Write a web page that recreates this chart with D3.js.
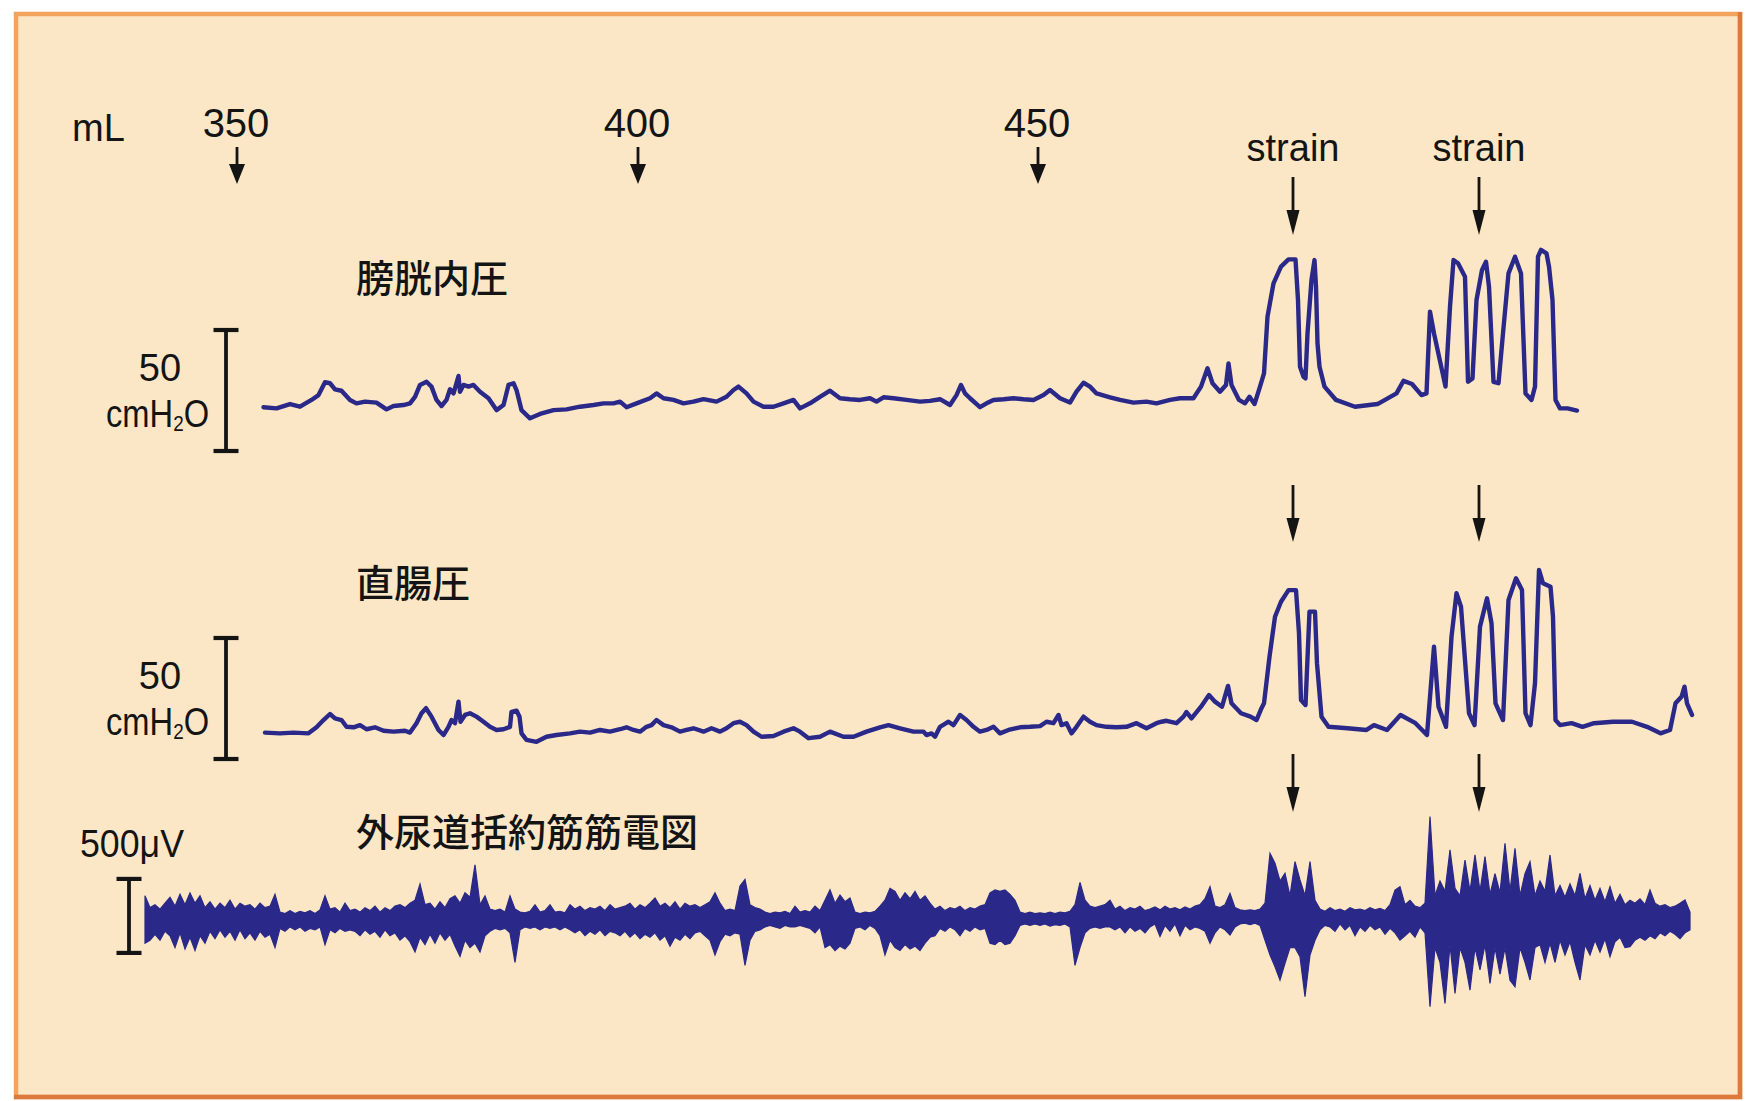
<!DOCTYPE html>
<html><head><meta charset="utf-8">
<script src="https://cdn.jsdelivr.net/npm/d3@7"></script>
<style>
html,body{margin:0;padding:0;background:#fff;}
svg{display:block;}
</style></head>
<body>
<svg id="chart" width="1745" height="1101"></svg>
<script>
// ---------------- data ----------------
const volumeLabels = ["350", "400", "450"];          // infused volume (mL)
const volumeTimes  = [18.4, 98.6, 178.6];             // time (s) of each volume mark
const strainLabels = ["strain", "strain"];
const strainTimes  = [229.6, 266.8];                  // time (s) of strain events
const pressureCal  = [0, 50];                          // cmH2O calibration bar
const emgCal       = [-236, 264];                      // µV calibration bar (500 µV)

// bladder (vesical) pressure: [time s, cmH2O]
const bladderTrace = [
[23.7,18.1],[26.3,17.6],[29.0,19.4],[31.0,18.3],[33.3,21.1],[34.7,23.1],[36.0,28.4],[37.0,28.0],[38.0,25.5],[39.3,24.9],
[41.0,21.1],[42.3,19.7],[44.0,20.4],[46.3,20.0],[48.3,17.2],[49.7,18.6],[51.7,19.0],[53.0,19.7],[54.0,22.4],[55.0,27.3],
[56.3,28.6],[57.3,26.6],[58.3,21.1],[59.3,18.6],[60.3,21.1],[61.0,25.5],[61.7,23.8],[62.3,28.0],[62.7,31.0],[63.0,24.5],
[63.7,27.3],[64.7,26.6],[65.7,27.3],[67.0,24.5],[68.7,21.8],[70.3,16.9],[71.7,19.0],[72.7,27.3],[73.7,28.0],[74.3,25.2],
[75.3,16.9],[77.0,13.5],[79.0,15.3],[81.7,16.9],[84.3,17.2],[87.0,18.3],[89.7,19.0],[91.7,19.7],[93.7,19.7],[95.0,20.4],
[96.3,18.1],[98.3,19.7],[101.0,21.8],[102.3,23.8],[103.7,21.8],[105.7,21.1],[107.7,19.7],[109.7,20.4],[111.7,21.4],[114.3,20.4],
[116.3,22.4],[117.7,25.2],[118.7,26.6],[120.3,23.8],[121.7,20.4],[123.7,18.3],[125.7,18.3],[127.7,19.7],[129.7,21.1],[131.0,17.6],
[133.0,19.7],[135.0,22.4],[137.0,24.9],[139.0,21.8],[141.0,21.4],[143.0,21.1],[145.0,21.8],[146.3,20.4],[147.7,22.2],[149.7,21.8],
[152.3,21.1],[155.0,20.4],[157.0,20.7],[159.0,21.4],[161.0,19.0],[162.3,23.1],[163.2,27.3],[164.0,23.8],[165.0,21.8],[167.0,18.1],
[168.3,19.7],[169.7,21.1],[171.7,21.4],[173.7,21.8],[175.7,21.4],[177.7,21.1],[179.7,23.1],[181.0,25.2],[183.0,21.8],[185.0,20.0],
[186.3,24.5],[187.7,28.2],[189.0,26.6],[190.3,23.8],[193.0,22.2],[195.0,21.1],[197.7,20.0],[200.3,20.4],[202.3,19.7],[205.0,21.1],
[207.0,21.8],[209.7,21.8],[211.2,26.6],[212.5,34.2],[213.5,28.0],[215.0,24.5],[216.2,27.3],[216.7,36.2],[217.3,27.3],[218.8,21.1],
[220.0,19.7],[220.9,22.4],[221.9,19.4],[223.0,26.6],[223.8,32.1],[224.5,55.5],[225.7,69.3],[227.2,76.2],[228.7,79.2],[230.1,79.2],
[230.6,62.4],[231.0,34.8],[231.7,30.7],[232.1,30.0],[232.5,48.6],[233.3,70.7],[233.9,78.9],[234.2,67.9],[234.5,44.5],[234.9,34.8],
[235.9,26.6],[238.2,21.1],[242.0,18.3],[246.5,19.4],[250.3,23.8],[251.7,29.0],[253.4,27.7],[255.3,23.1],[256.3,23.8],[257.0,57.6],
[257.8,48.6],[259.1,36.2],[260.1,26.6],[261.0,59.6],[261.7,78.9],[262.6,77.6],[264.0,72.0],[264.6,28.6],[265.5,30.0],[266.3,62.4],
[267.4,74.8],[268.2,78.2],[268.8,67.9],[269.7,28.6],[270.7,28.0],[271.6,48.6],[272.7,73.4],[274.0,80.3],[275.2,73.4],[276.1,23.8],
[277.3,21.1],[278.0,26.6],[278.6,80.3],[279.2,83.1],[280.3,81.7],[280.8,76.2],[281.5,62.4],[282.1,21.1],[283.0,17.6],[284.5,17.6],
[286.4,16.7]
];

// rectal (abdominal) pressure: [time s, cmH2O]
const rectalTrace = [
[24.0,10.9],[27.0,10.6],[29.7,10.9],[32.7,10.6],[34.3,13.1],[35.7,16.1],[37.0,18.6],[38.0,16.8],[39.3,16.1],[40.3,13.3],
[41.7,13.1],[43.0,14.0],[44.3,12.3],[46.0,13.1],[47.7,11.7],[49.7,11.3],[52.0,11.7],[53.0,10.9],[54.3,14.8],[55.3,18.9],
[56.2,21.0],[57.3,17.5],[58.7,12.0],[59.7,9.9],[60.7,13.3],[61.3,16.1],[62.0,14.8],[62.7,23.7],[63.1,15.4],[64.0,18.2],
[65.0,18.9],[66.3,17.5],[67.7,15.4],[69.0,13.3],[70.3,12.0],[71.7,12.3],[73.0,13.3],[73.3,19.5],[74.3,20.0],[74.9,17.5],
[75.3,10.6],[76.3,7.9],[78.3,7.1],[80.3,9.2],[82.3,9.9],[85.0,10.6],[87.0,11.3],[89.0,10.9],[91.0,12.0],[93.0,11.3],
[95.0,12.3],[96.3,13.1],[97.7,12.0],[99.0,11.3],[100.3,13.3],[101.3,14.0],[102.3,16.1],[103.7,14.0],[105.3,13.1],[107.0,11.3],
[108.3,12.0],[109.7,12.7],[111.7,11.3],[113.3,12.7],[115.0,11.3],[116.3,12.7],[117.7,14.8],[119.0,15.4],[120.3,14.0],[121.7,11.3],
[123.3,9.2],[125.7,9.5],[127.7,11.3],[129.7,12.7],[131.0,11.3],[132.7,8.6],[135.0,9.2],[137.0,11.3],[139.7,9.2],[141.7,9.2],
[144.3,11.3],[147.0,13.1],[148.7,14.0],[151.0,12.7],[153.7,11.3],[155.7,11.3],[156.3,9.9],[157.3,10.6],[158.0,9.2],[159.0,13.3],
[160.7,15.4],[161.7,14.0],[163.0,18.2],[164.3,16.1],[165.7,13.3],[167.0,11.3],[168.3,12.0],[169.7,13.3],[171.0,10.6],[172.7,12.0],
[175.0,13.1],[177.0,13.3],[179.0,13.6],[180.3,15.4],[181.7,14.8],[182.7,18.2],[183.3,14.0],[184.3,14.8],[185.3,10.6],[186.3,13.3],
[187.7,17.5],[189.0,15.4],[190.3,14.0],[192.3,13.3],[194.3,13.1],[196.3,13.3],[198.3,14.8],[200.3,12.7],[202.3,14.8],[203.3,15.4],
[204.3,15.8],[206.3,14.8],[207.7,17.5],[208.3,19.4],[209.3,16.8],[211.2,21.6],[212.8,26.4],[214.0,23.7],[215.4,21.6],[216.6,30.2],
[217.3,23.0],[219.2,18.9],[221.1,17.5],[222.3,16.1],[223.3,21.0],[223.8,23.0],[224.9,42.3],[226.0,58.8],[227.2,65.0],[228.7,69.8],
[230.2,69.8],[230.8,51.9],[231.2,24.4],[232.1,22.3],[232.9,60.9],[234.0,60.9],[234.4,39.5],[235.3,17.5],[236.7,13.3],[240.5,12.7],
[244.3,12.0],[245.8,14.0],[248.4,12.0],[251.1,18.2],[254.1,14.8],[256.4,9.9],[257.8,46.4],[258.7,21.6],[260.2,13.3],[261.3,50.5],
[262.3,68.5],[263.2,62.9],[264.8,18.9],[265.9,14.0],[267.0,54.7],[268.4,66.4],[269.3,56.1],[270.1,23.0],[271.6,16.1],[272.7,65.7],
[274.2,74.7],[275.4,69.8],[276.1,18.9],[277.1,14.0],[278.0,31.3],[278.8,78.1],[279.6,72.6],[281.1,71.2],[281.6,58.8],[282.1,16.1],
[283.0,14.0],[285.3,14.8],[287.5,13.3],[289.8,14.8],[293.6,15.4],[297.4,15.4],[300.4,13.3],[303.1,10.6],[305.0,12.0],[306.1,23.0],
[307.3,25.7],[307.9,29.9],[308.4,23.0],[309.4,18.2]
];

// sphincter EMG envelope, one sample per second (µV): upper and lower excursion
const emgHigh = [
150,70,90,60,100,140,80,160,90,170, 100,150,70,110,60,100,70,120,60,100,
80,90,60,100,70,80,160,40,30,50, 30,45,35,50,30,55,150,60,70,40,
100,50,60,40,70,50,80,40,70,50, 80,90,70,100,120,230,90,100,60,110,
70,130,150,100,170,140,360,90,150,60, 50,60,40,150,60,40,35,45,90,40,
50,90,40,45,35,90,60,80,50,70, 60,80,50,90,60,70,80,100,60,90,
70,100,135,80,100,70,110,60,100,80, 90,70,90,110,170,100,50,60,50,216,
260,90,70,60,40,30,40,35,45,30, 80,40,50,40,80,50,120,190,100,155,
110,135,40,30,40,35,45,80,120,200, 180,120,170,130,180,120,150,100,60,80,
50,70,60,80,50,70,60,80,90,170, 190,180,190,160,120,40,30,40,30,35,
30,40,30,40,35,45,90,240,120,80, 70,80,90,120,60,80,50,70,60,80,
50,60,75,55,80,60,70,55,75,60, 80,90,130,212,80,70,90,167,70,55,
50,55,50,60,100,437,370,250,302,150, 381,257,150,381,120,60,45,70,50,60,
45,70,55,60,50,70,55,65,50,90, 189,212,90,120,80,70,100,685,150,250,
180,460,200,150,392,180,426,180,415,160, 300,170,505,180,471,150,300,381,150,250,
180,426,150,220,140,230,150,302,130,220, 120,200,110,212,100,160,90,120,100,130,
90,189,100,80,90,70,80,100,122,40
];
const emgLow = [
-170,-150,-110,-150,-90,-120,-200,-100,-210,-130, -220,-120,-170,-90,-140,-80,-130,-90,-150,-80,
-140,-100,-150,-90,-130,-110,-200,-70,-90,-60, -80,-60,-90,-70,-80,-60,-180,-80,-100,-70,
-90,-80,-90,-120,-80,-110,-90,-130,-80,-120, -100,-150,-120,-160,-230,-130,-180,-110,-170,-100,
-150,-110,-190,-260,-150,-200,-170,-230,-120,-90, -70,-80,-70,-100,-300,-80,-60,-70,-60,-80,
-60,-70,-60,-80,-60,-80,-100,-80,-120,-90, -110,-80,-120,-90,-100,-120,-90,-130,-100,-140,
-110,-130,-100,-150,-120,-190,-130,-150,-110,-140, -100,-90,-120,-150,-250,-160,-110,-120,-100,-110,
-320,-150,-90,-80,-60,-50,-60,-70,-50,-60, -60,-50,-60,-70,-100,-60,-200,-180,-220,-190,
-210,-170,-70,-60,-80,-50,-70,-120,-250,-150, -200,-220,-180,-210,-190,-220,-170,-130,-120,-70,
-90,-60,-80,-120,-70,-90,-60,-80,-70,-170, -180,-150,-180,-170,-120,-50,-40,-50,-40,-50,
-40,-55,-45,-50,-40,-60,-320,-200,-100,-70, -60,-70,-60,-60,-80,-60,-100,-60,-90,-70,
-100,-60,-40,-125,-50,-90,-40,-120,-50,-80, -60,-70,-90,-171,-100,-60,-80,-115,-60,-40,
-35,-45,-35,-50,-150,-250,-329,-419,-306,-200, -200,-261,-532,-250,-150,-80,-50,-60,-90,-40,
-80,-50,-120,-60,-90,-50,-80,-60,-110,-70, -100,-149,-120,-90,-130,-60,-100,-599,-200,-300,
-577,-180,-509,-200,-300,-487,-200,-350,-180,-442, -200,-380,-200,-420,-464,-200,-300,-419,-200,-180,
-300,-170,-300,-150,-250,-160,-300,-419,-180,-250, -150,-230,-140,-261,-160,-130,-200,-194,-150,-130,
-150,-120,-140,-100,-120,-90,-110,-140,-100,-80
];

// ---------------- drawing ----------------
const svg = d3.select("#chart");
const INK = "#141414";
const TRACE = "#2A2888";
const LATIN = "'Liberation Sans', Arial, Helvetica, sans-serif";
const CJK = "'Noto Sans CJK JP', 'Noto Sans CJK SC', sans-serif";

const x  = d3.scaleLinear().domain([0, 310]).range([145, 1695]);
const yB = d3.scaleLinear().domain([0, 50]).range([451, 330]);
const yR = d3.scaleLinear().domain([0, 50]).range([759, 638]);
const yE = d3.scaleLinear().domain([-250, 250]).range([955, 881]);

// frame
svg.append("rect").attr("x", 16).attr("y", 14).attr("width", 1724).attr("height", 1083)
  .attr("fill", "#FBE7C6").attr("stroke", "#F3A45C").attr("stroke-width", 4.5);
svg.append("line").attr("x1", 1740).attr("x2", 1740).attr("y1", 12).attr("y2", 1099)
  .attr("stroke", "#DB7A3C").attr("stroke-width", 4.5);
svg.append("line").attr("x1", 14).attr("x2", 1742).attr("y1", 1097).attr("y2", 1097)
  .attr("stroke", "#DB7A3C").attr("stroke-width", 4.5);

function arrow(g, xc, y1, y2, hw, hh) {
  g.append("line").attr("x1", xc).attr("x2", xc).attr("y1", y1).attr("y2", y2 - hh + 2)
    .attr("stroke", INK).attr("stroke-width", 2.8);
  g.append("path").attr("d", `M${xc - hw / 2},${y2 - hh}L${xc + hw / 2},${y2 - hh}L${xc},${y2}Z`)
    .attr("fill", INK);
}
function calBar(g, xc, yTop, yBot, capW) {
  g.append("line").attr("x1", xc).attr("x2", xc).attr("y1", yTop).attr("y2", yBot)
    .attr("stroke", INK).attr("stroke-width", 3.8);
  [yTop, yBot].forEach(yy => g.append("line").attr("x1", xc - capW / 2).attr("x2", xc + capW / 2)
    .attr("y1", yy).attr("y2", yy).attr("stroke", INK).attr("stroke-width", 4.2));
}
function latin(g, txt, xx, yy, size, anchor) {
  return g.append("text").attr("x", xx).attr("y", yy).attr("font-family", LATIN)
    .attr("font-size", size).attr("fill", INK).attr("text-anchor", anchor || "start").text(txt);
}

const ann = svg.append("g");
// volume marks
latin(ann, "mL", 72, 141, 38);
volumeLabels.forEach((v, i) => {
  const xc = x(volumeTimes[i]);
  latin(ann, v, xc - 1, 137, 40, "middle");
  arrow(ann, xc, 147, 184, 16, 20);
});
// strain marks
strainTimes.forEach((t, i) => {
  const xc = x(t);
  latin(ann, strainLabels[i], xc, 161, 38, "middle");
  arrow(ann, xc, 177, 235, 13, 25);
  arrow(ann, xc, 485, 542, 13, 24);
  arrow(ann, xc, 754, 812, 13, 25);
});

// titles
[["膀胱内圧", 292], ["直腸圧", 597], ["外尿道括約筋筋電図", 846]].forEach(([t, yy]) =>
  ann.append("text").attr("x", 356).attr("y", yy).attr("font-family", CJK).attr("font-weight", 500)
    .attr("font-size", 38).attr("fill", INK).text(t));

// pressure calibration bars and labels
function pressureLabel(yMid50, yMidUnit) {
  latin(ann, "50", 160, yMid50, 38, "middle");
  const t = ann.append("text").attr("transform", `translate(106,${yMidUnit}) scale(0.86,1)`)
    .attr("font-family", LATIN).attr("font-size", 38).attr("fill", INK);
  t.append("tspan").text("cmH");
  t.append("tspan").attr("font-size", 22).attr("dy", 4).text("2");
  t.append("tspan").attr("dy", -4).text("O");
}
calBar(ann, 226, yB(pressureCal[1]), yB(pressureCal[0]), 25);
pressureLabel(381, 427);
calBar(ann, 226, yR(pressureCal[1]), yR(pressureCal[0]), 25);
pressureLabel(689, 735);

// EMG calibration
calBar(ann, 129, yE(emgCal[1]), yE(emgCal[0]), 25);
ann.append("text").attr("x", 80).attr("y", 857).attr("font-family", LATIN).attr("font-size", 38)
  .attr("fill", INK).attr("textLength", 104).attr("lengthAdjust", "spacingAndGlyphs").text("500μV");

// traces
const lineB = d3.line().x(d => x(d[0])).y(d => yB(d[1]));
const lineR = d3.line().x(d => x(d[0])).y(d => yR(d[1]));
svg.append("path").attr("d", lineB(bladderTrace)).attr("fill", "none").attr("stroke", TRACE)
  .attr("stroke-width", 4.4).attr("stroke-linejoin", "round").attr("stroke-linecap", "round");
svg.append("path").attr("d", lineR(rectalTrace)).attr("fill", "none").attr("stroke", TRACE)
  .attr("stroke-width", 4.4).attr("stroke-linejoin", "round").attr("stroke-linecap", "round");

const emgArea = d3.area()
  .x((d, i) => x(i))
  .y0((d, i) => yE(emgLow[i]))
  .y1((d, i) => yE(emgHigh[i]));
svg.append("path").attr("d", emgArea(emgHigh)).attr("fill", TRACE)
  .attr("stroke", TRACE).attr("stroke-width", 1.2).attr("stroke-linejoin", "miter");
</script>
</body></html>
